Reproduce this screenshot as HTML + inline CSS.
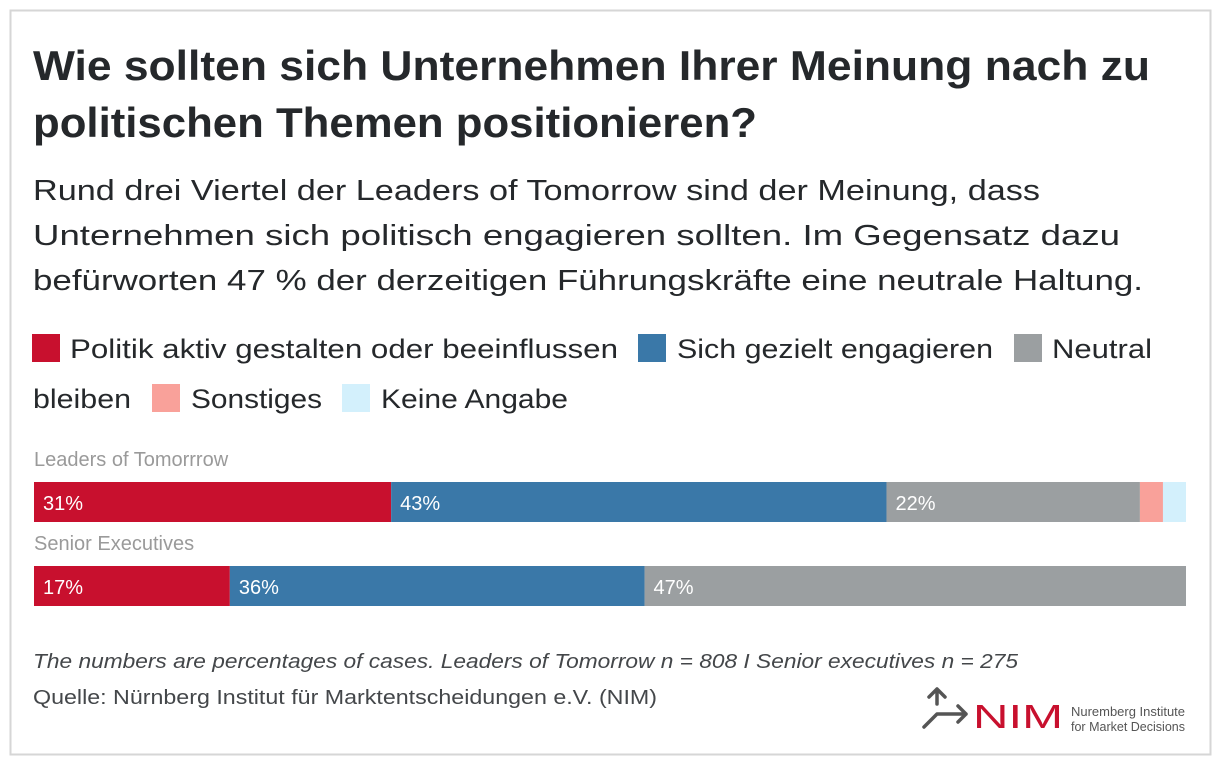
<!DOCTYPE html>
<html><head><meta charset="utf-8"><style>
body{margin:0;background:#fff;}
svg{display:block;font-family:"Liberation Sans",sans-serif;}
</style></head><body>
<svg width="1220" height="768">
<rect x="10.5" y="10.5" width="1200" height="744" fill="#fff" stroke="#d6d6d6" stroke-width="2"/>
<g fill="#25282b">
<text x="33" y="80" font-size="42" font-weight="bold" textLength="1117" lengthAdjust="spacingAndGlyphs">Wie sollten sich Unternehmen Ihrer Meinung nach zu</text>
<text x="33" y="137" font-size="42" font-weight="bold" textLength="724" lengthAdjust="spacingAndGlyphs">politischen Themen positionieren?</text>
</g>
<g fill="#25282b" font-size="29">
<text x="33" y="200" textLength="1007" lengthAdjust="spacingAndGlyphs">Rund drei Viertel der Leaders of Tomorrow sind der Meinung, dass</text>
<text x="33" y="245" textLength="1087" lengthAdjust="spacingAndGlyphs">Unternehmen sich politisch engagieren sollten. Im Gegensatz dazu</text>
<text x="33" y="290" textLength="1110" lengthAdjust="spacingAndGlyphs">befürworten 47 % der derzeitigen Führungskräfte eine neutrale Haltung.</text>
</g>
<g id="legend" font-size="27" fill="#25282b"></g>
<g id="bars"></g>
<text x="33" y="668" font-size="20" font-style="italic" fill="#44474a" textLength="985" lengthAdjust="spacingAndGlyphs">The numbers are percentages of cases. Leaders of Tomorrow n = 808 I Senior executives n = 275</text>
<text x="33" y="704" font-size="20" fill="#44474a" textLength="624" lengthAdjust="spacingAndGlyphs">Quelle: Nürnberg Institut für Marktentscheidungen e.V. (NIM)</text>
<g>
<g stroke="#555" stroke-width="3.5" fill="none" stroke-linecap="round" stroke-linejoin="round">
<path d="M937 704 V689 M929 697 L937 689 L945 697"/>
<path d="M924 727 L937 714 H966 M958 706 L966 714 L958 722"/>
</g>
<text x="973" y="728" font-size="33" fill="#c8102e" textLength="90" lengthAdjust="spacingAndGlyphs">NIM</text>
<text x="1071" y="716" font-size="13" fill="#555" textLength="114" lengthAdjust="spacingAndGlyphs">Nuremberg Institute</text>
<text x="1071" y="731" font-size="13" fill="#555" textLength="114" lengthAdjust="spacingAndGlyphs">for Market Decisions</text>
</g>
</svg>
<script>
const categories = ["Leaders of Tomorrrow", "Senior Executives"];
const seriesNames = ["Politik aktiv gestalten oder beeinflussen","Sich gezielt engagieren","Neutral","Sonstiges","Keine Angabe"];
const politik = [31, 17];
const gezielt = [43, 36];
const neutral = [22, 47];
const sonstiges = [2, 0];
const keine = [2, 0];
const colors = ["#c8102e","#3a78a8","#9b9fa1","#f9a19a","#d3f0fc"];
const NS = "http://www.w3.org/2000/svg";
const x0 = 34, plotW = 1152;
const xScale = v => v / 100 * plotW;
const bars = document.getElementById("bars");
const series = [politik, gezielt, neutral, sonstiges, keine];
categories.forEach((c, i) => {
  const yTop = 482 + i * 84;
  const lbl = document.createElementNS(NS, "text");
  
  
  lbl.setAttribute("x", 34); lbl.setAttribute("y", yTop - 16);
  lbl.setAttribute("font-size", "20"); lbl.setAttribute("fill", "#9a9a9a");
  lbl.textContent = c; bars.appendChild(lbl);
  let acc = 0;
  series.forEach((s, j) => {
    const v = s[i]; if (!v) return;
    const r = document.createElementNS(NS, "rect");
    
    
    r.setAttribute("x", x0 + xScale(acc)); r.setAttribute("y", yTop);
    r.setAttribute("width", xScale(v)); r.setAttribute("height", 40);
    r.setAttribute("fill", colors[j]); bars.appendChild(r);
    if (v >= 5) {
      const t = document.createElementNS(NS, "text");
      
      
      t.setAttribute("x", x0 + xScale(acc) + 9); t.setAttribute("y", yTop + 28);
      t.setAttribute("font-size", "20"); t.setAttribute("fill", "#fff");
      t.textContent = v + "%"; bars.appendChild(t);
    }
    acc += v;
  });
});
const lg = document.getElementById("legend");
const legendPos = [[32,334,70,548],[638,334,677,316],[1014,334,1052,100],[152,384,191,131],[342,384,381,187]];
seriesNames.forEach((n, j) => {
  const p = legendPos[j];
  const r = document.createElementNS(NS, "rect");
  
  
  r.setAttribute("x", p[0]); r.setAttribute("y", p[1]);
  r.setAttribute("width", 28); r.setAttribute("height", 28);
  r.setAttribute("fill", colors[j]); lg.appendChild(r);
  const t = document.createElementNS(NS, "text");
  
  
  t.setAttribute("x", p[2]); t.setAttribute("y", p[1] + 24);
  t.setAttribute("textLength", p[3]); t.setAttribute("lengthAdjust", "spacingAndGlyphs");
  t.textContent = n === "Neutral" ? "Neutral" : n; lg.appendChild(t);
});
const b = document.createElementNS(NS, "text");


b.setAttribute("x", 33); b.setAttribute("y", 408);
b.setAttribute("textLength", 98); b.setAttribute("lengthAdjust", "spacingAndGlyphs");
b.textContent = "bleiben"; lg.appendChild(b);
</script>
</body></html>
